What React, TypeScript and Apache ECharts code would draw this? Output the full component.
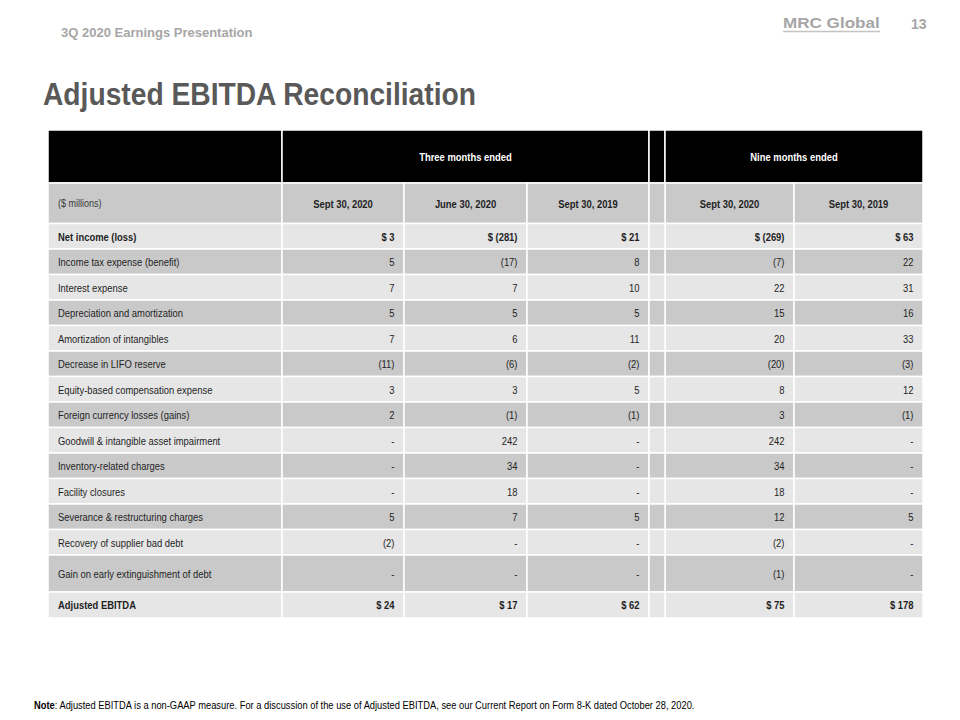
import React, { useEffect, useRef } from "react";
import * as echarts from "echarts";

// ---------------- data ----------------
const rowLabels = [
  "Net income (loss)",
  "Income tax expense (benefit)",
  "Interest expense",
  "Depreciation and amortization",
  "Amortization of intangibles",
  "Decrease in LIFO reserve",
  "Equity-based compensation expense",
  "Foreign currency losses (gains)",
  "Goodwill & intangible asset impairment",
  "Inventory-related charges",
  "Facility closures",
  "Severance & restructuring charges",
  "Recovery of supplier bad debt",
  "Gain on early extinguishment of debt",
  "Adjusted EBITDA",
];
const periodGroups = ["Three months ended", "Nine months ended"];
const columnHeaders = ["Sept 30, 2020", "June 30, 2020", "Sept 30, 2019", "Sept 30, 2020", "Sept 30, 2019"];
const unitLabel = "($ millions)";
const threeMonthsSep2020 = [3, 5, 7, 5, 7, -11, 3, 2, null, null, null, 5, -2, null, 24];
const threeMonthsJun2020 = [-281, -17, 7, 5, 6, -6, 3, -1, 242, 34, 18, 7, null, null, 17];
const threeMonthsSep2019 = [21, 8, 10, 5, 11, -2, 5, -1, null, null, null, 5, null, null, 62];
const nineMonthsSep2020 = [-269, -7, 22, 15, 20, -20, 8, 3, 242, 34, 18, 12, -2, -1, 75];
const nineMonthsSep2019 = [63, 22, 31, 16, 33, -3, 12, -1, null, null, null, 5, null, null, 178];

const headerLine = "3Q 2020 Earnings Presentation";
const titleText = "Adjusted EBITDA Reconciliation";
const brandText = "MRC Global";
const pageNumber = "13";
const noteBold = "Note";
const noteText =
  ": Adjusted EBITDA is a non-GAAP measure. For a discussion of the use of Adjusted EBITDA, see our Current Report on Form 8-K dated October 28, 2020.";

// ---------------- layout ----------------
const COL_EDGES = [48, 282, 404, 527, 649, 665, 794, 923];
const HEAD_EDGES = [130, 183, 223.5];
const BODY_ROW_H = 25.5;
const TALL_ROW_H = 37;
const LAST_ROW_H = 26;
const STRONG_ROWS = [0, rowLabels.length - 1];
const DOLLAR_ROWS = [0, rowLabels.length - 1];

const FONT = "'Liberation Sans', Arial, sans-serif";
const NARROW = 0.82;
const DARK = "#c9c9c9";
const LIGHT = "#e6e6e6";
const TEXT = "#1f1f1f";

const valueColumns: { col: number; values: (number | null)[] }[] = [
  { col: 1, values: threeMonthsSep2020 },
  { col: 2, values: threeMonthsJun2020 },
  { col: 3, values: threeMonthsSep2019 },
  { col: 5, values: nineMonthsSep2020 },
  { col: 6, values: nineMonthsSep2019 },
];

function fmt(v: number | null, dollar: boolean): string {
  if (v === null) return "-";
  const s = v < 0 ? `(${Math.abs(v)})` : `${v}`;
  return dollar ? `$ ${s}` : s;
}

type Cell = {
  c0: number;
  c1: number;
  r: number;
  text: string;
  align: "left" | "right" | "center";
  bold: boolean;
  fill: string;
  color: string;
  size: number;
};

function buildRowEdges(): number[] {
  const edges = [...HEAD_EDGES];
  rowLabels.forEach((_, i) => {
    const h = i === rowLabels.length - 1 ? LAST_ROW_H : i === rowLabels.length - 2 ? TALL_ROW_H : BODY_ROW_H;
    edges.push(edges[edges.length - 1] + h);
  });
  return edges;
}

function buildCells(): Cell[] {
  const cells: Cell[] = [];
  // black header row
  const hdr = (c0: number, c1: number, text: string) =>
    cells.push({ c0, c1, r: 0, text, align: "center", bold: true, fill: "#000000", color: "#ffffff", size: 11.5 });
  hdr(0, 1, "");
  hdr(1, 4, periodGroups[0]);
  hdr(4, 5, "");
  hdr(5, 7, periodGroups[1]);
  // sub-header row
  cells.push({ c0: 0, c1: 1, r: 1, text: unitLabel, align: "left", bold: false, fill: DARK, color: "#3a3a3a", size: 11 });
  const subCols = [1, 2, 3, 5, 6];
  subCols.forEach((c, k) =>
    cells.push({ c0: c, c1: c + 1, r: 1, text: columnHeaders[k], align: "center", bold: true, fill: DARK, color: TEXT, size: 11.5 })
  );
  cells.push({ c0: 4, c1: 5, r: 1, text: "", align: "center", bold: false, fill: DARK, color: TEXT, size: 11 });
  // body rows
  rowLabels.forEach((label, i) => {
    const r = i + 2;
    const fill = i % 2 === 0 ? LIGHT : DARK;
    const strong = STRONG_ROWS.includes(i);
    const dollar = DOLLAR_ROWS.includes(i);
    cells.push({ c0: 0, c1: 1, r, text: label, align: "left", bold: strong, fill, color: TEXT, size: 11.5 });
    valueColumns.forEach(({ col, values }) =>
      cells.push({ c0: col, c1: col + 1, r, text: fmt(values[i], dollar), align: "right", bold: strong, fill, color: TEXT, size: 11.5 })
    );
    cells.push({ c0: 4, c1: 5, r, text: "", align: "center", bold: false, fill, color: TEXT, size: 11 });
  });
  return cells;
}

export default function App() {
  const ref = useRef<HTMLDivElement>(null);

  useEffect(() => {
    if (!ref.current) return;
    const chart = echarts.init(ref.current, undefined, { renderer: "svg" });
    const rowEdges = buildRowEdges();
    const cells = buildCells();
    const data = cells.map((c) => [COL_EDGES[c.c0], COL_EDGES[c.c1], rowEdges[c.r], rowEdges[c.r + 1]]);

    const txt = (
      text: string,
      x: number,
      y: number,
      size: number,
      color: string,
      weight: string,
      scaleX = 1,
      align = "left"
    ) => ({
      type: "text",
      x,
      y,
      scaleX,
      silent: true,
      style: {
        text,
        x: 0,
        y: 0,
        fill: color,
        fontSize: size,
        fontWeight: weight,
        fontFamily: FONT,
        align,
        verticalAlign: "middle",
        textAlign: align,
        textVerticalAlign: "middle",
      },
    });

    chart.setOption({
      animation: false,
      backgroundColor: "#ffffff",
      grid: { left: 0, top: 0, right: 0, bottom: 0 },
      xAxis: { type: "value", min: 0, max: 960, show: false },
      yAxis: { type: "value", min: 0, max: 720, inverse: true, show: false },
      series: [
        {
          type: "custom",
          coordinateSystem: "cartesian2d",
          silent: true,
          clip: false,
          data,
          renderItem: (params: any, api: any) => {
            const cell = cells[params.dataIndex];
            const tl = api.coord([api.value(0), api.value(2)]);
            const br = api.coord([api.value(1), api.value(3)]);
            const children: any[] = [
              {
                type: "rect",
                shape: { x: tl[0], y: tl[1], width: br[0] - tl[0], height: br[1] - tl[1] },
                style: { fill: cell.fill, stroke: "#ffffff", lineWidth: 1.5 },
              },
            ];
            if (cell.text) {
              const tx = cell.align === "left" ? tl[0] + 10 : cell.align === "right" ? br[0] - 9.5 : (tl[0] + br[0]) / 2;
              children.push({
                type: "text",
                x: tx,
                y: (tl[1] + br[1]) / 2,
                scaleX: NARROW,
                style: {
                  text: cell.text,
                  x: 0,
                  y: 0,
                  fill: cell.color,
                  fontSize: cell.size,
                  fontWeight: cell.bold ? "bold" : "normal",
                  fontFamily: FONT,
                  align: cell.align,
                  verticalAlign: "middle",
                  textAlign: cell.align,
                  textVerticalAlign: "middle",
                },
              });
            }
            return { type: "group", children };
          },
        },
      ],
      graphic: [
        txt(headerLine, 61, 32, 13, "#a6a6a6", "bold"),
        txt(titleText, 43, 94, 31, "#595959", "bold", 0.91),
        txt(brandText, 783, 23, 14, "#a6a6a6", "bold", 1.22),
        {
          type: "line",
          silent: true,
          shape: { x1: 783, y1: 31.5, x2: 880, y2: 31.5 },
          style: { stroke: "#c4c4c4", lineWidth: 1.5 },
        },
        txt(pageNumber, 911, 24, 14, "#a6a6a6", "bold"),
        {
          type: "text",
          x: 34,
          y: 705,
          scaleX: 0.89,
          silent: true,
          style: {
            text: `{b|${noteBold}}${noteText}`,
            x: 0,
            y: 0,
            fill: "#000000",
            fontSize: 10.5,
            fontFamily: FONT,
            verticalAlign: "middle",
            textVerticalAlign: "middle",
            rich: {
              b: { fontWeight: "bold", fontSize: 10.5, fontFamily: FONT, fill: "#000000" },
            },
          },
        },
      ],
    });

    return () => chart.dispose();
  }, []);

  return <div ref={ref} style={{ position: "absolute", left: 0, top: 0, width: 960, height: 720 }} />;
}
